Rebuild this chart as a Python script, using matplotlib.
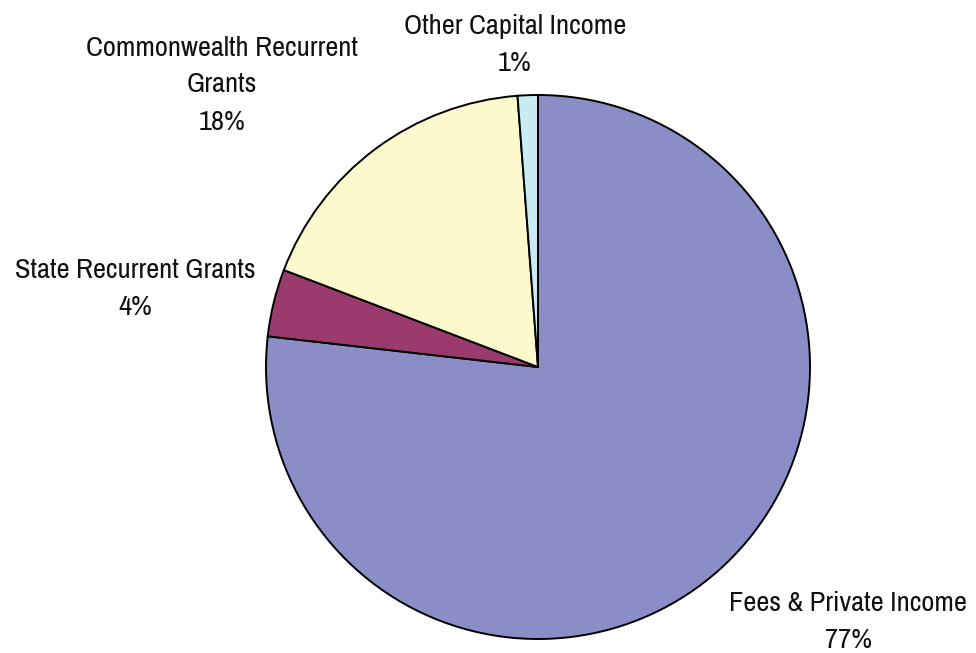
import matplotlib.pyplot as plt

labels = ['Fees & Private Income', 'State Recurrent Grants',
          'Commonwealth Recurrent\nGrants', 'Other Capital Income']
shares = [76.8, 4.0, 18.0, 1.2]
pct_text = ['77%', '4%', '18%', '1%']
colors = ['#8b8ec6', '#9b3a6c', '#fcf9cc', '#c9ecf2']

# label centres in pixel coordinates (x, y from top)
label_pos = [(848, 622), (135, 289), (222, 85), (515, 45)]

plt.rcParams['font.family'] = ['Archivo Narrow', 'DejaVu Sans']

fig = plt.figure(figsize=(9.76, 6.53), dpi=100)
ax = fig.add_axes([0, 0, 1, 1])
ax.pie(shares, colors=colors, startangle=90, counterclock=False,
       center=(538, 653 - 367), radius=272,
       wedgeprops=dict(edgecolor='black', linewidth=1.4))
ax.set_xlim(0, 976)
ax.set_ylim(0, 653)
ax.set_aspect('equal')
ax.axis('off')

for lab, pct, (x, y) in zip(labels, pct_text, label_pos):
    ax.text(x, 653 - y, lab + '\n' + pct, ha='center', va='center',
            fontsize=20.5, linespacing=1.6, color='#111111')

fig.savefig('out.png', dpi=100)
